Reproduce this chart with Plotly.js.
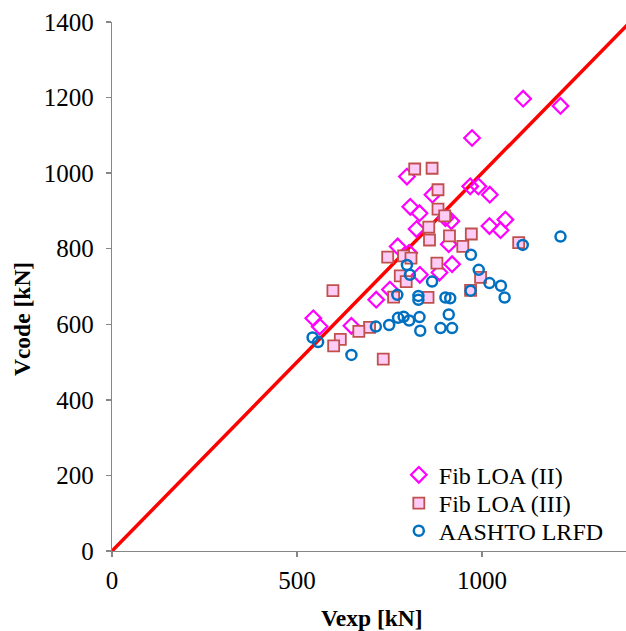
<!DOCTYPE html>
<html>
<head>
<meta charset="utf-8">
<script src="https://cdn.plot.ly/plotly-3.0.1.min.js"></script>
<style>html,body{margin:0;padding:0;background:#fff;}#chart{width:626px;height:631px;}</style>
</head>
<body>
<div id="chart"></div>
<script>
// Fib LOA (II) — diamonds
const fib2X = [1111,1212,973,797,968,990,1021,866,806,831,901,917,823,1020,1063,1050,910,772,803,919,832,885,544,561,647,714,751];
const fib2Y = [1197,1178,1093,991,965,965,943,943,911,894,881,873,852,860,877,849,812,806,789,759,731,737,616,594,596,665,692];
// Fib LOA (III) — squares
const fib3X = [818,865,881,881,899,856,858,912,971,948,1099,745,788,808,878,996,597,779,795,761,854,969,696,667,617,599,733];
const fib3Y = [1011,1013,956,905,887,857,823,834,839,806,816,778,781,775,762,724,689,728,713,672,671,690,592,581,560,543,508];
// AASHTO LRFD — circles
const aaX = [1212,1110,970,991,1020,1051,1061,969,865,910,888,919,901,914,828,828,831,833,803,788,773,749,713,771,797,805,542,557,647];
const aaY = [832,810,784,744,709,702,671,689,713,626,590,590,671,669,675,665,619,583,610,620,617,598,594,678,757,731,565,553,519];
// 1:1 reference line
const lineX = [0,1400];
const lineY = [0,1400];
const seriesNames = ['Fib LOA (II)','Fib LOA (III)','AASHTO LRFD'];
const xTicks = [0,500,1000];
const yTicks = [0,200,400,600,800,1000,1200,1400];

const FONT = '"Liberation Serif", "Times New Roman", Times, serif';
const traces = [
  {x: lineX, y: lineY, mode: 'lines', line: {color: '#FF0000', width: 3.5}, showlegend: false, hoverinfo: 'skip'},
  {x: fib2X, y: fib2Y, mode: 'markers', name: seriesNames[0], legend: 'legend',
   marker: {symbol: 'diamond-open', size: 12, color: '#FF00FF', line: {width: 2.2, color: '#FF00FF'}}},
  {x: fib3X, y: fib3Y, mode: 'markers', name: seriesNames[1], legend: 'legend2',
   marker: {symbol: 'square', size: 11, color: '#FFCCF8', line: {width: 1.8, color: '#C0504D'}}},
  {x: aaX, y: aaY, mode: 'markers', name: seriesNames[2], legend: 'legend3',
   marker: {symbol: 'circle-open', size: 10, color: '#0070C0', line: {width: 2.5, color: '#0070C0'}}}
];
const axisCommon = {
  showgrid: false, zeroline: false, showline: true, linecolor: '#868686', linewidth: 1.3,
  ticks: 'outside', ticklen: 5, tickcolor: '#868686', tickwidth: 1.3,
  tickfont: {family: FONT, size: 25, color: '#000'}
};
const legFont = {family: FONT, size: 24, color: '#000'};
const legX = 0.558;
const layout = {
  width: 626, height: 631,
  margin: {l: 112, r: 0, t: 22, b: 80},
  paper_bgcolor: '#fff', plot_bgcolor: '#fff',
  font: {family: FONT, size: 24, color: '#000'},
  xaxis: Object.assign({}, axisCommon, {range: [0, 1389], tickmode: 'array', tickvals: xTicks, ticktext: xTicks.map(String), ticklabelstandoff: 2}),
  yaxis: Object.assign({}, axisCommon, {range: [0, 1400], tickmode: 'array', tickvals: yTicks, ticktext: yTicks.map(String), ticklabelstandoff: 7}),
  legend:  {x: legX, y: 0.1858, xanchor: 'left', yanchor: 'top', bgcolor: 'rgba(0,0,0,0)', font: legFont},
  legend2: {x: legX, y: 0.1323, xanchor: 'left', yanchor: 'top', bgcolor: 'rgba(0,0,0,0)', font: legFont},
  legend3: {x: legX, y: 0.0800, xanchor: 'left', yanchor: 'top', bgcolor: 'rgba(0,0,0,0)', font: legFont},
  annotations: [
    {text: '<b>Vexp [kN]</b>', xref: 'paper', yref: 'paper', x: 0.506, y: -0.127, xanchor: 'center', yanchor: 'middle',
     showarrow: false, font: {family: FONT, size: 23.5, color: '#000'}},
    {text: '<b>Vcode [kN]</b>', xref: 'paper', yref: 'paper', x: -0.175, y: 0.4386, xanchor: 'center', yanchor: 'middle',
     textangle: -90, showarrow: false, font: {family: FONT, size: 23.5, color: '#000'}}
  ],
  showlegend: true
};
Plotly.newPlot('chart', traces, layout, {displayModeBar: false, staticPlot: true});
</script>
</body>
</html>
